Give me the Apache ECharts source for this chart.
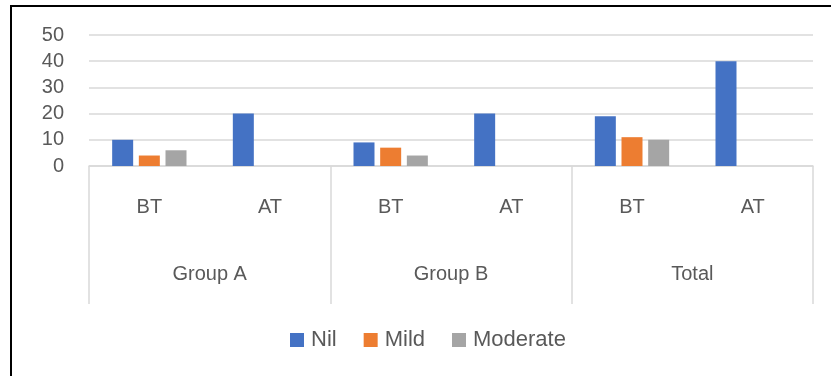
<!DOCTYPE html>
<html>
<head>
<meta charset="utf-8">
<script src="https://cdn.jsdelivr.net/npm/echarts@6/dist/echarts.min.js"></script>
<style>
  html, body { margin: 0; padding: 0; background: #ffffff; }
  #chart { width: 831px; height: 376px; }
</style>
</head>
<body>
<div id="chart"></div>
<script>
// Inner axis: treatment stage within each group
const stages = ['BT', 'AT', 'BT', 'AT', 'BT', 'AT'];
// Outer axis: groups
const groups = ['Group A', 'Group B', 'Total'];
// Severity counts per stage
const nilValues = [10, 20, 9, 20, 19, 40];
const mildValues = [4, 0, 7, 0, 11, 0];
const moderateValues = [6, 0, 4, 0, 10, 0];
const seriesNames = ['Nil', 'Mild', 'Moderate'];
const yTicks = { min: 0, max: 50, step: 10 };

const colors = ['#4472C4', '#ED7D31', '#A5A5A5'];
const textColor = '#595959';
const lineColor = '#D9D9D9';
const fontFamily = '"Liberation Sans", Arial, sans-serif';

const chart = echarts.init(document.getElementById('chart'), null, { renderer: 'canvas' });

const values = [nilValues, mildValues, moderateValues];

chart.setOption({
  animation: false,
  backgroundColor: '#ffffff',
  color: colors,
  textStyle: { fontFamily: fontFamily },
  graphic: [{
    type: 'rect',
    shape: { x: 11, y: 6, width: 900, height: 500 },
    style: { fill: 'none', stroke: '#000000', lineWidth: 2 },
    silent: true
  }],
  grid: { left: 89, right: 18, top: 35, bottom: 210, containLabel: false },
  legend: {
    data: seriesNames,
    left: 290,
    top: 329,
    padding: 0,
    icon: 'rect',
    itemWidth: 14,
    itemHeight: 14,
    itemGap: 27,
    textStyle: { fontSize: 22, color: textColor, fontFamily: fontFamily, padding: [0, 0, 0, 2] }
  },
  xAxis: [
    {
      type: 'category',
      data: stages,
      position: 'bottom',
      axisLine: { show: true, lineStyle: { color: lineColor, width: 1.5 } },
      axisTick: { show: false },
      axisLabel: { interval: 0, color: textColor, fontSize: 20, margin: 31, fontFamily: fontFamily },
      splitLine: { show: false }
    },
    {
      type: 'category',
      data: groups,
      position: 'bottom',
      boundaryGap: true,
      axisLine: { show: false },
      axisTick: { show: true, interval: 0, length: 138, lineStyle: { color: lineColor, width: 1.5 } },
      axisLabel: { interval: 0, color: textColor, fontSize: 20, margin: 98, fontFamily: fontFamily },
      splitLine: { show: false }
    }
  ],
  yAxis: {
    type: 'value',
    min: yTicks.min,
    max: yTicks.max,
    interval: yTicks.step,
    axisLine: { show: false },
    axisTick: { show: false },
    axisLabel: { color: textColor, fontSize: 20, margin: 25, fontFamily: fontFamily },
    splitLine: { show: true, lineStyle: { color: lineColor, width: 1.5 } }
  },
  series: seriesNames.map((name, i) => ({
    name: name,
    type: 'bar',
    xAxisIndex: 0,
    data: values[i],
    barWidth: 21,
    barGap: '27%',
    itemStyle: { color: colors[i] }
  }))
});
</script>
</body>
</html>
